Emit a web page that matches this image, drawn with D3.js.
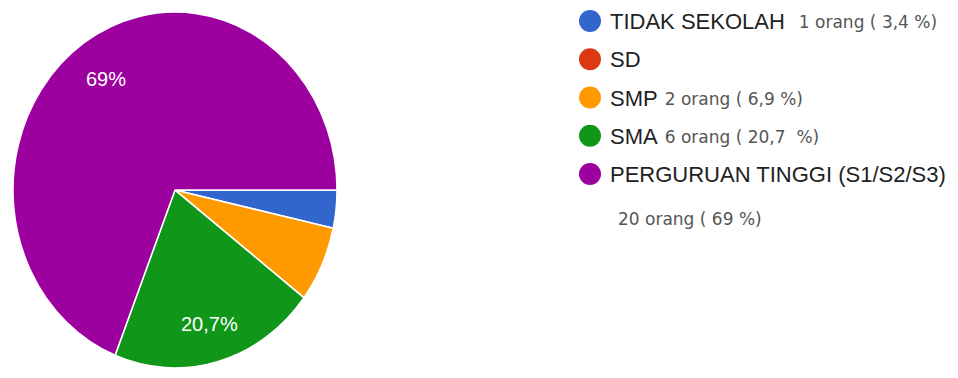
<!DOCTYPE html>
<html>
<head>
<meta charset="utf-8">
<script src="https://cdn.jsdelivr.net/npm/d3@7"></script>
<style>
  body { margin: 0; background: #fff; }
  svg { display: block; }
  .legend text { font-family: "Liberation Sans", Arial, sans-serif; fill: #222; }
  .legend text.note { font-family: "DejaVu Sans", sans-serif; fill: #555; white-space: pre; }
</style>
</head>
<body>
<div id="chart"></div>
<script>
const categories = ['TIDAK SEKOLAH', 'SD', 'SMP', 'SMA', 'PERGURUAN TINGGI (S1/S2/S3)'];
const counts = [1, 0, 2, 6, 20];
const notes = ['1 orang ( 3,4 %)', '', '2 orang ( 6,9 %)', '6 orang ( 20,7  %)', '20 orang ( 69 %)'];
const colors = ['#3366cc', '#dc3912', '#ff9900', '#109618', '#9c009e'];

const width = 958;
const height = 378;
const cx = 175, cy = 190;
const rx = 162, ry = 178;

const data = categories.map((c, i) => ({ name: c, value: counts[i], note: notes[i], color: colors[i] }));
const total = d3.sum(counts);

const svg = d3.select('#chart').append('svg')
    .attr('width', width)
    .attr('height', height);

const pie = d3.pie()
    .value(d => d.value)
    .sort(null)
    .startAngle(Math.PI / 2)
    .endAngle(Math.PI / 2 + 2 * Math.PI);

const arc = d3.arc().innerRadius(0).outerRadius(rx);
const labelArc = d3.arc().innerRadius(rx * 0.77).outerRadius(rx * 0.77);

// pie is stretched a bit vertically in the reference
const g = svg.append('g')
    .attr('transform', `translate(${cx}, ${cy}) scale(1, ${ry / rx})`);

const arcs = pie(data).filter(d => d.data.value > 0);

g.selectAll('path')
    .data(arcs)
    .enter()
    .append('path')
    .attr('d', arc)
    .attr('fill', d => d.data.color)
    .attr('stroke', '#fff')
    .attr('stroke-width', 1.5)
    .attr('stroke-linejoin', 'round');

const fmtPct = v => {
    const p = Math.round(v / total * 1000) / 10;
    return String(p).replace('.', ',') + '%';
};

svg.append('g')
    .selectAll('text')
    .data(arcs.filter(d => d.data.value / total >= 0.1))
    .enter()
    .append('text')
    .attr('x', d => cx + labelArc.centroid(d)[0] + 1)
    .attr('y', d => cy + labelArc.centroid(d)[1] * ry / rx + 2)
    .attr('dy', '0.35em')
    .attr('text-anchor', 'middle')
    .attr('font-family', '"Liberation Sans", Arial, sans-serif')
    .attr('font-size', 20)
    .attr('fill', '#fff')
    .text(d => fmtPct(d.data.value));

// legend
const legendY = d3.scalePoint()
    .domain(categories)
    .range([21, 174]);

const legend = svg.append('g').attr('class', 'legend');

const rows = legend.selectAll('g')
    .data(data)
    .enter()
    .append('g')
    .attr('transform', d => `translate(590, ${legendY(d.name)})`);

rows.append('circle')
    .attr('r', 11)
    .attr('fill', d => d.color);

rows.append('text')
    .attr('x', 20)
    .attr('y', 8)
    .attr('font-size', 22)
    .text(d => d.name);

rows.each(function(d, i) {
    if (!d.note) return;
    const row = d3.select(this);
    const w = row.select('text').node().getComputedTextLength();
    const last = i === data.length - 1;
    row.append('text')
        .attr('class', 'note')
        .attr('x', last ? 28 : 20 + w + (i === 0 ? 14 : 7))
        .attr('y', last ? 51 : 7)
        .attr('font-size', 17)
        .text(d.note);
});
</script>
</body>
</html>
